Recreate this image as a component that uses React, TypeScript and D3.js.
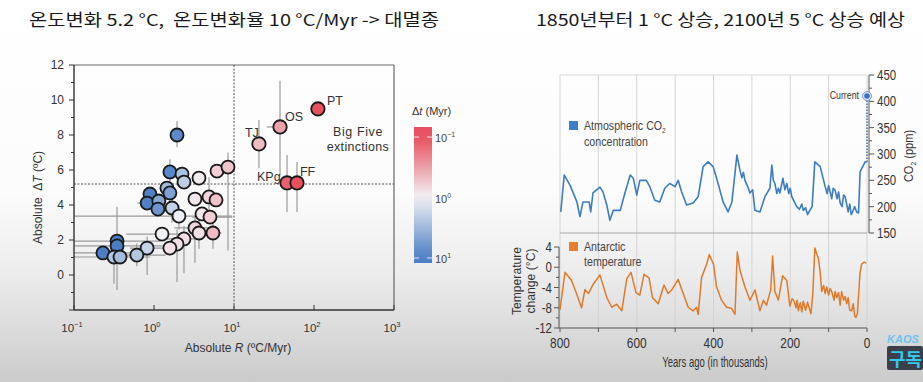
import React from 'react';
import * as d3 from 'd3';

const W = 923;
const H = 382;

// ---------- Left chart data ----------
const pointR = [1.94, 1.58, 2.24, 3.65, 2.37, 6.13, 8.41, 0.89, 0.82, 1.45, 1.58, 1.15, 1.12, 1.68, 2.05, 3.25, 4.87, 5.96, 3.98, 5.01, 1.26, 3.25, 3.65, 5.46, 2.37, 1.94, 1.58, 0.82, 0.61, 0.345, 0.345, 0.23, 0.316, 0.376];
const pointT = [8.0, 5.89, 5.77, 5.54, 5.31, 5.94, 6.17, 4.63, 4.11, 4.97, 4.69, 4.23, 3.77, 3.83, 3.37, 4.34, 4.46, 4.29, 3.49, 3.31, 2.34, 2.69, 2.4, 2.4, 2.06, 1.77, 1.54, 1.54, 1.14, 1.94, 1.66, 1.26, 1.03, 1.03];
const pointDt = [7.7, 8.2, 2.6, 0.9, 2.1, 0.62, 0.53, 9.5, 9.5, 3.1, 4.9, 4.4, 6.2, 1.9, 1.07, 0.85, 0.67, 0.51, 0.87, 0.61, 1.04, 0.67, 0.76, 0.45, 0.76, 0.79, 0.78, 1.8, 2.4, 10, 10, 10, 2.3, 2.9];
// error ranges [rLo, rHi, tLo, tHi]; null = none
const pointErr: (number | null)[][] = [
  [null, null, 7.3, 8.8], [null, null, 5.3, 6.6], [null, null, null, null], [null, null, null, null],
  [null, null, null, null], [null, null, null, null], [null, null, 1.4, 7.0], [null, null, null, null],
  [0.62, 1.1, null, null], [null, null, null, null], [null, null, 3.8, 5.5], [null, null, null, null],
  [null, null, null, null], [null, null, 3.0, 4.6], [0.1, 9.5, 2.6, 4.0], [null, null, null, null],
  [null, null, 3.6, 5.6], [null, null, null, null], [null, null, null, null], [3.0, 9.5, null, null],
  [0.45, 2.2, null, null], [1.8, 5.0, 0.7, 3.4], [null, null, 1.5, 3.2], [4.5, 7.0, 1.5, 3.0],
  [1.3, 3.8, 0.1, 2.8], [null, null, -0.4, 2.6], [null, null, null, null], [0.5, 1.9, 0.0, 2.2],
  [0.3, 1.4, 0.5, 1.8], [0.1, 1.2, -0.86, 3.9], [0.1, 1.6, null, null], [0.1, 0.5, null, null],
  [0.1, 0.9, -0.5, 1.8], [null, null, null, null],
];

const bigNames = ['TJ', 'OS', 'PT', 'KPg', 'FF'];
const bigR = [20.5, 37.6, 112, 46, 61.3];
const bigT = [7.49, 8.46, 9.49, 5.26, 5.26];
const bigDt = [0.46, 0.32, 0.1, 0.126, 0.1];
const bigErr: (number | null)[][] = [
  [null, null, 6.11, 8.86], [25.7, 46, 5.7, 11.1], [null, null, null, null], [null, null, 3.6, 6.86], [null, null, 3.6, 6.46],
];

const xTickExp = [-1, 0, 1, 2, 3];
const yTickLabels = [0, 2, 4, 6, 8, 10, 12];
const thresholdR = 10;
const thresholdT = 5.2;
const cbTickExp = [-1, 0, 1];

// ---------- Right chart data ----------
const co2Age = [798, 789, 774, 756, 748, 740, 724, 720, 714, 696, 688, 678, 670, 661, 643, 630, 617, 609, 600, 592, 575, 566, 553, 540, 527, 514, 500, 492, 483, 470, 453, 440, 427, 414, 401, 388, 375, 362, 352, 339, 331, 326, 322, 318, 312, 305, 298, 292, 279, 266, 253, 248, 244, 240, 235, 231, 227, 219, 214, 209, 204, 200, 196, 190, 183, 176, 170, 166, 160, 155, 149, 143, 136, 122, 109, 104, 100, 96, 92, 88, 83, 78, 74, 70, 65, 61, 57, 53, 49, 45, 41, 36, 32, 27, 22, 18, 5, 1];
const co2Ppm = [190, 260, 241, 209, 181, 209, 209, 190, 226, 237, 228, 203, 174, 193, 193, 228, 260, 254, 222, 250, 250, 238, 212, 209, 235, 244, 238, 250, 228, 203, 207, 219, 276, 285, 276, 244, 209, 190, 209, 298, 269, 255, 265, 250, 240, 226, 232, 193, 190, 219, 235, 279, 250, 244, 225, 235, 226, 254, 232, 244, 225, 235, 219, 210, 200, 195, 205, 193, 198, 185, 193, 200, 285, 276, 238, 225, 240, 228, 215, 235, 231, 215, 228, 207, 200, 222, 219, 205, 190, 205, 185, 193, 200, 190, 188, 266, 285, 285];
const co2Current = 410;

const tempAge = [800, 787, 770, 757, 744, 735, 726, 713, 696, 678, 665, 652, 639, 626, 615, 602, 592, 581, 568, 559, 544, 529, 518, 509, 492, 479, 466, 453, 444, 440, 431, 418, 411, 400, 392, 379, 366, 353, 344, 338, 331, 318, 305, 292, 279, 270, 262, 251, 246, 240, 231, 220, 209, 201, 195, 190, 185, 182, 179, 174, 170, 166, 160, 155, 150, 146, 141, 136, 130, 127, 122, 118, 113, 109, 105, 100, 96, 92, 86, 83, 79, 74, 70, 66, 61, 57, 53, 49, 45, 40, 36, 32, 29, 25, 23, 18, 14, 7, 2];
const tempVal = [-8.4, -1.0, -2.6, -5.2, -8.0, -4.4, -5.2, -3.3, -1.5, -6.0, -7.9, -7.3, -8.6, -2.3, -1.0, -5.0, -5.5, -1.4, -2.1, -6.0, -7.2, -3.5, -5.2, -4.5, -2.4, -5.2, -7.9, -8.6, -7.9, -9.3, -2.0, 0.6, 2.5, 0.6, -3.9, -6.5, -7.9, -8.1, -9.3, 3.0, -0.6, -3.9, -6.5, -4.5, -8.6, -6.5, -7.5, -4.5, 2.2, -4.8, -6.5, -1.7, -2.6, -7.7, -6.2, -6.7, -8.0, -6.5, -8.6, -7.0, -8.8, -6.7, -8.5, -6.9, -8.2, -9.2, -5.0, 3.8, 2.4, 1.9, -1.0, -4.8, -3.6, -5.2, -3.9, -5.5, -4.2, -4.8, -6.5, -4.8, -6.0, -5.0, -7.5, -4.8, -6.5, -5.8, -7.2, -6.0, -8.5, -8.6, -7.2, -9.6, -9.9, -9.2, -6.7, -1.0, 0.6, 1.0, 0.8];

const ageTicks = [800, 700, 600, 500, 400, 300, 200, 100, 0];
const ageLabels = [800, 600, 400, 200, 0];
const co2Ticks = [150, 200, 250, 300, 350, 400, 450];
const tempTicks = [4, 0, -4, -8, -12];

// ---------- scales ----------
const xL = d3.scaleLog().domain([0.1, 1000]).range([74, 394]);
const yL = d3.scaleLinear().domain([-2, 12]).range([310, 65]);
const colorScale = d3.scaleLog<string>().domain([0.1, 1, 10]).range(['#e8505f', '#f2f2f5', '#4a7ec4']).clamp(true);
const cbScale = d3.scaleLog().domain([0.1, 10]).range([137, 258]);

const xR = d3.scaleLinear().domain([800, 0]).range([560, 867]);
const yCO2 = d3.scaleLinear().domain([150, 450]).range([233, 75]);
const yTemp = d3.scaleLinear().domain([-12, 4]).range([328, 247]);

const FONT = "'Liberation Sans', Arial, sans-serif";
const KR = "'Noto Sans CJK KR', sans-serif";

function NText({ x, y, sx = 0.8, rot = 0, anchor = 'start', size = 13, fill = '#333', children }: any) {
  return (
    <text transform={`translate(${x},${y}) rotate(${rot}) scale(${sx},1)`} textAnchor={anchor} fontSize={size} fill={fill}>
      {children}
    </text>
  );
}

function ErrBars({ r, t, e }: { r: number; t: number; e: (number | null)[] }) {
  const out: any[] = [];
  if (e[0] != null && e[1] != null) out.push(<line key="h" x1={xL(e[0] as number)} x2={xL(e[1] as number)} y1={yL(t)} y2={yL(t)} stroke="#9a9a9a" strokeWidth={1.2} />);
  if (e[2] != null && e[3] != null) out.push(<line key="v" x1={xL(r)} x2={xL(r)} y1={yL(e[2] as number)} y2={yL(e[3] as number)} stroke="#9a9a9a" strokeWidth={1.2} />);
  return <g>{out}</g>;
}

export default function App() {
  const co2Line = d3.line<number>().x((d, i) => xR(co2Age[i])).y((d) => yCO2(d));
  const tempLine = d3.line<number>().x((d, i) => xR(tempAge[i])).y((d) => yTemp(d));
  const yMinor = d3.range(-2, 13, 1);
  const cbStops = d3.range(0, 11).map((i) => {
    const y = 127 + (i / 10) * (263 - 127);
    return { off: i / 10, c: colorScale(cbScale.invert(y)) };
  });
  const lastCo2 = co2Ppm[co2Ppm.length - 1];
  const co2Minor = d3.range(150, 451, 25);
  const tempMinor = d3.range(-12, 5, 2);

  return (
    <svg width={W} height={H} style={{ position: 'absolute', left: 0, top: 0 }} xmlns="http://www.w3.org/2000/svg">
      <defs>
        <linearGradient id="bg" x1="0" y1="0" x2="0" y2="1">
          <stop offset="0" stopColor="#ffffff" />
          <stop offset="0.5" stopColor="#fcfcfc" />
          <stop offset="0.72" stopColor="#ececec" />
          <stop offset="1" stopColor="#cbcbcb" />
        </linearGradient>
        <linearGradient id="cb" x1="0" y1="0" x2="0" y2="1">
          {cbStops.map((s, i) => <stop key={i} offset={s.off} stopColor={s.c} />)}
        </linearGradient>
      </defs>
      <rect x={0} y={0} width={W} height={H} fill="url(#bg)" />

      {/* Titles */}
      <text x={29} y={26} fontFamily={KR} fontSize={16.5} fill="#1a1a1a" textLength={410} lengthAdjust="spacingAndGlyphs">{'온도변화 5.2 °C,\u00a0 온도변화율 10 °C/Myr -> 대멸종'}</text>
      <text x={536} y={26} fontFamily={KR} fontSize={16.5} fill="#1a1a1a" textLength={369} lengthAdjust="spacingAndGlyphs">1850년부터 1 °C 상승, 2100년 5 °C 상승 예상</text>

      {/* ---------- Left chart ---------- */}
      <g fontFamily={FONT}>
        <line x1={xL(thresholdR)} x2={xL(thresholdR)} y1={65} y2={310} stroke="#555" strokeWidth={1} strokeDasharray="2,1.5" />
        <line x1={74} x2={394} y1={yL(thresholdT)} y2={yL(thresholdT)} stroke="#555" strokeWidth={1} strokeDasharray="2,1.5" />
        {pointR.map((r, i) => <ErrBars key={'e' + i} r={r} t={pointT[i]} e={pointErr[i]} />)}
        {bigR.map((r, i) => <ErrBars key={'be' + i} r={r} t={bigT[i]} e={bigErr[i]} />)}
        <line x1={74} x2={394} y1={65} y2={65} stroke="#666" strokeWidth={1.2} />
        <line x1={394} x2={394} y1={65} y2={310} stroke="#666" strokeWidth={1.2} />
        <line x1={74} x2={74} y1={65} y2={310} stroke="#333" strokeWidth={1.4} />
        <line x1={74} x2={394} y1={310} y2={310} stroke="#333" strokeWidth={1.6} />
        {yMinor.map((v) => (
          <line key={'yt' + v} x1={74} x2={v % 2 === 0 ? 69 : 71} y1={yL(v)} y2={yL(v)} stroke="#333" strokeWidth={1} />
        ))}
        {yTickLabels.map((v) => (
          <text key={'yl' + v} x={64} y={yL(v) + 4} textAnchor="end" fontSize={12} fill="#333">{v}</text>
        ))}
        {xTickExp.map((e) => (
          <g key={'xt' + e}>
            <line x1={xL(Math.pow(10, e))} x2={xL(Math.pow(10, e))} y1={310} y2={305} stroke="#333" strokeWidth={1} />
            <text x={xL(Math.pow(10, e)) - 2} y={332} textAnchor="middle" fontSize={11.5} fill="#333">
              10<tspan dy={-5} fontSize={7.5}>{e < 0 ? '−' + Math.abs(e) : e}</tspan>
            </text>
          </g>
        ))}
        <text x={238} y={352} textAnchor="middle" fontSize={12} fill="#333">Absolute <tspan fontStyle="italic">R</tspan> (ºC/Myr)</text>
        <text transform={`translate(42,${(65 + 310) / 2 + 10}) rotate(-90)`} textAnchor="middle" fontSize={12} fill="#333">{'Absolute\u00a0 Δ'}<tspan fontStyle="italic">T</tspan> (ºC)</text>

        {pointR.map((r, i) => (
          <circle key={'p' + i} cx={xL(r)} cy={yL(pointT[i])} r={6.5} fill={colorScale(pointDt[i])} stroke="#1a1a1a" strokeWidth={1.8} />
        ))}
        {bigR.map((r, i) => (
          <circle key={'b' + i} cx={xL(r)} cy={yL(bigT[i])} r={6.7} fill={colorScale(bigDt[i])} stroke="#1a1a1a" strokeWidth={1.8} />
        ))}
        <text x={xL(bigR[0]) - 14} y={yL(bigT[0]) - 7} fontSize={12.5} fill="#333">{bigNames[0]}</text>
        <text x={xL(bigR[1]) + 5} y={yL(bigT[1]) - 6} fontSize={12.5} fill="#333">{bigNames[1]}</text>
        <text x={xL(bigR[2]) + 9} y={yL(bigT[2]) - 4} fontSize={12.5} fill="#333">{bigNames[2]}</text>
        <text x={xL(bigR[3]) - 30} y={yL(bigT[3]) - 2} fontSize={12.5} fill="#333">{bigNames[3]}</text>
        <text x={xL(bigR[4]) + 3} y={yL(bigT[4]) - 7} fontSize={12.5} fill="#333">{bigNames[4]}</text>
        <text x={358} y={136} textAnchor="middle" fontSize={12.5} fill="#333" letterSpacing={0.6}>Big Five</text>
        <text x={358} y={151} textAnchor="middle" fontSize={12.5} fill="#333" letterSpacing={0.3}>extinctions</text>

        <text x={412} y={115} fontSize={11} fill="#333">Δ<tspan fontStyle="italic">t</tspan> (Myr)</text>
        <rect x={414} y={127} width={18} height={136} fill="url(#cb)" />
        {cbTickExp.map((e) => (
          <g key={'cb' + e}>
            {e !== 0 && <line x1={414} x2={419} y1={cbScale(Math.pow(10, e))} y2={cbScale(Math.pow(10, e))} stroke="#fff" strokeWidth={1} opacity={0.8} />}
            {e !== 0 && <line x1={427} x2={432} y1={cbScale(Math.pow(10, e))} y2={cbScale(Math.pow(10, e))} stroke="#fff" strokeWidth={1} opacity={0.8} />}
            <text x={435} y={cbScale(Math.pow(10, e)) + 5} fontSize={11} fill="#444">
              10<tspan dy={-5} fontSize={7}>{e < 0 ? '−' + Math.abs(e) : e}</tspan>
            </text>
          </g>
        ))}
      </g>

      {/* ---------- Right chart ---------- */}
      <g fontFamily={FONT}>
        {ageTicks.map((a) => (
          <line key={'g' + a} x1={xR(a)} x2={xR(a)} y1={75} y2={328} stroke="#d4d4d4" strokeWidth={1} />
        ))}
        <line x1={560} x2={867} y1={75} y2={75} stroke="#d8d8d8" strokeWidth={1} />
        <line x1={560} x2={867} y1={233} y2={233} stroke="#a8a8a8" strokeWidth={1.2} />
        <line x1={869} x2={869} y1={yCO2(450)} y2={yCO2(150)} stroke="#555" strokeWidth={1} />
        {co2Minor.map((v) => (
          <line key={'ct' + v} x1={869} x2={v % 50 === 0 ? 874 : 872} y1={yCO2(v)} y2={yCO2(v)} stroke="#555" strokeWidth={1} />
        ))}
        {co2Ticks.map((v) => (
          <NText key={'cl' + v} x={877} y={yCO2(v) + 5} size={14} sx={0.82}>{v}</NText>
        ))}
        <NText x={913} y={156} rot={-90} anchor="middle" size={13} sx={0.85}>CO<tspan dy={3} fontSize={8}>2</tspan><tspan dy={-3}> (ppm)</tspan></NText>
        <path d={co2Line(co2Ppm) || ''} fill="none" stroke="#3b7dc0" strokeWidth={1.6} strokeLinejoin="round" />
        <line x1={xR(0)} x2={xR(0)} y1={yCO2(lastCo2)} y2={yCO2(co2Current)} stroke="#3b6fc0" strokeWidth={1.5} strokeDasharray="1.5,1.5" />
        <circle cx={xR(0)} cy={yCO2(co2Current)} r={4.5} fill="#dfe8f5" stroke="#7a9ad0" strokeWidth={1} />
        <circle cx={xR(0)} cy={yCO2(co2Current)} r={2.8} fill="#3b6fc0" />
        <NText x={859} y={yCO2(co2Current) + 3} anchor="end" size={11} sx={0.8}>Current</NText>
        <rect x={569} y={121} width={9} height={9} fill="#3b80c6" />
        <NText x={584} y={130} size={13} sx={0.82} fill="#444">Atmospheric CO<tspan dy={3} fontSize={8}>2</tspan></NText>
        <NText x={584} y={146} size={13} sx={0.82} fill="#444">concentration</NText>

        <line x1={559} x2={559} y1={yTemp(4)} y2={yTemp(-12)} stroke="#555" strokeWidth={1} />
        {tempMinor.map((v) => (
          <line key={'tt' + v} x1={559} x2={v % 4 === 0 ? 554 : 556} y1={yTemp(v)} y2={yTemp(v)} stroke="#555" strokeWidth={1} />
        ))}
        {tempTicks.map((v) => (
          <NText key={'tl' + v} x={552} y={yTemp(v) + 5} anchor="end" size={14} sx={0.82}>{v}</NText>
        ))}
        <line x1={559} x2={867} y1={328} y2={328} stroke="#555" strokeWidth={1.2} />
        {ageTicks.map((a) => (
          <line key={'at' + a} x1={xR(a)} x2={xR(a)} y1={328} y2={332} stroke="#555" strokeWidth={1} />
        ))}
        {ageLabels.map((a) => (
          <NText key={'al' + a} x={xR(a)} y={348} anchor="middle" size={14.5} sx={0.82}>{a}</NText>
        ))}
        <NText x={715} y={367} anchor="middle" size={14} sx={0.68}>Years ago (in thousands)</NText>
        <NText x={521} y={281} rot={-90} anchor="middle" size={13.5} sx={0.9}>Temperature</NText>
        <NText x={535} y={281} rot={-90} anchor="middle" size={13.5} sx={0.9}>change (°C)</NText>
        <path d={tempLine(tempVal) || ''} fill="none" stroke="#e07a2a" strokeWidth={1.5} strokeLinejoin="round" />
        <rect x={569} y={242} width={9} height={9} fill="#e5812e" />
        <NText x={584} y={251} size={13} sx={0.82} fill="#444">Antarctic</NText>
        <NText x={584} y={266} size={13} sx={0.82} fill="#444">temperature</NText>
      </g>

      {/* watermark */}
      <g>
        <rect x={887} y={346} width={36} height={24} fill="#3a3f4a" rx={2} />
        <text x={887} y={343} fontFamily={FONT} fontSize={11} fontWeight="bold" fontStyle="italic" fill="#6cc4f0">KAOS</text>
        <text x={889} y={366} fontFamily={KR} fontSize={18} fontWeight="bold" fill="#35c8ee">구독</text>
      </g>
    </svg>
  );
}
